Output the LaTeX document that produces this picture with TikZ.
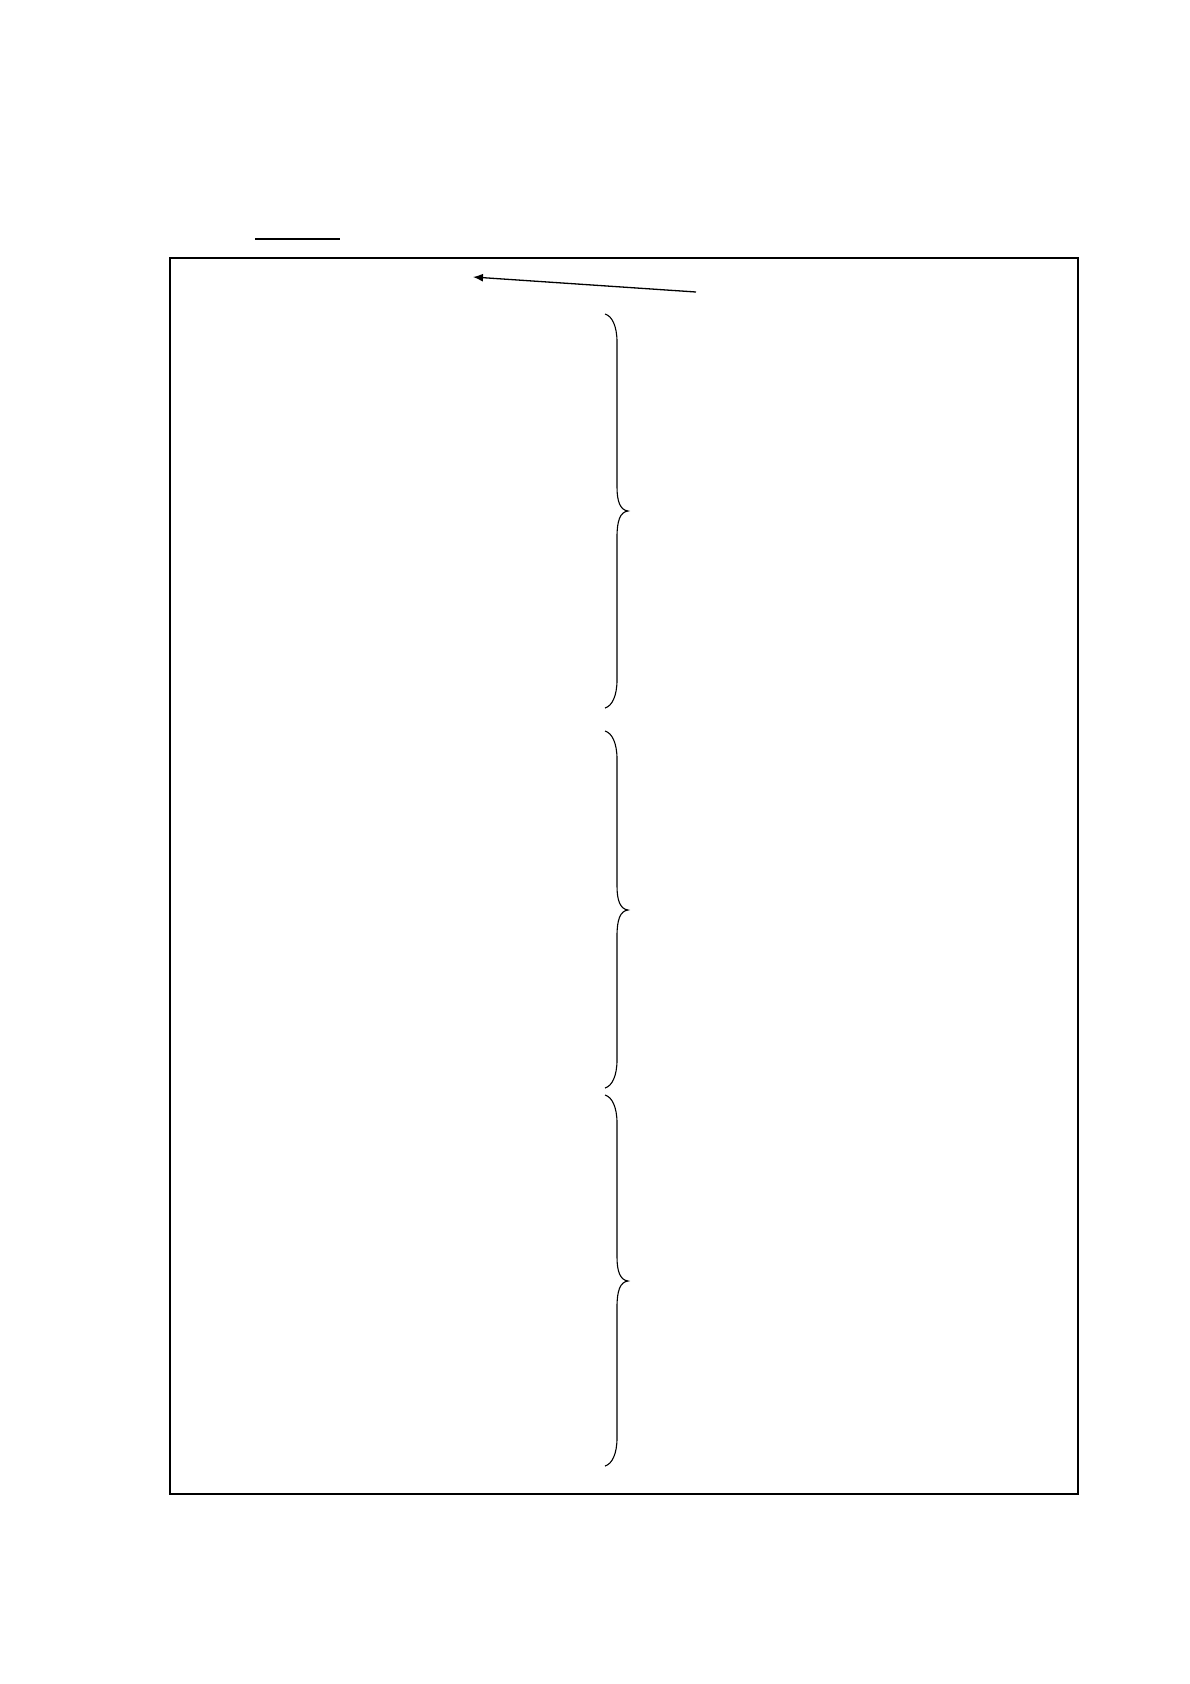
\documentclass[tikz,border=0pt]{standalone}
\usetikzlibrary{arrows.meta}
\tikzset{
  frame/.style={line width=1.4pt},
  bracestroke/.style={line width=1.1pt},
  ruleline/.style={line width=2pt},
  pointer/.style={line width=1.3pt,-{Latex[length=10pt,width=8pt]}}
}
\newcommand\mybrace[3]{% top, middle, bottom (in px from top)
  \draw[bracestroke] (605,#1) .. controls (612,#1+2) and (617,#1+12) .. (617,#1+28)
    -- (617,#2-24) .. controls (617,#2-10) and (620,#2-1) .. (628,#2)
    .. controls (620,#2+1) and (617,#2+10) .. (617,#2+26)
    -- (617,#3-28) .. controls (617,#3-12) and (612,#3-2) .. (605,#3);
}
\begin{document}
\begin{tikzpicture}[x=1pt,y=-1pt]
\useasboundingbox (0,0) rectangle (1190,1684);
\draw[frame] (170,258) rectangle (1078,1494);
\draw[ruleline] (255,239) -- (340,239);
\coordinate (tail) at (696,292);
\coordinate (head) at (473,277);
\draw[pointer] (tail) -- (head);
\mybrace{314}{511}{708}
\mybrace{731}{910}{1088}
\mybrace{1095}{1281}{1466}
\end{tikzpicture}
\end{document}
